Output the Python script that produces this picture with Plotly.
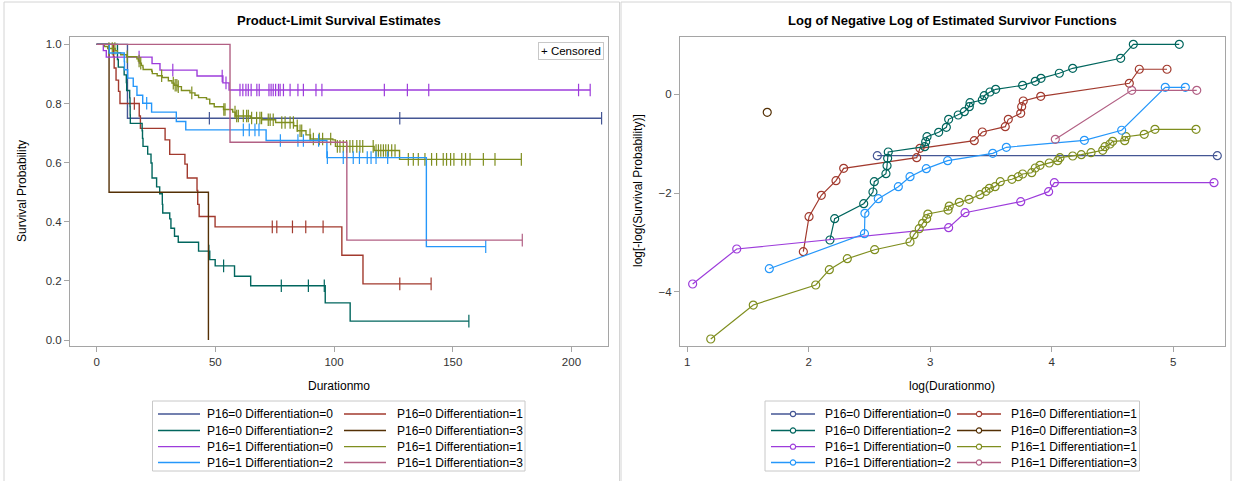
import numpy as np
import plotly.graph_objects as go

# ---------------- data ----------------
group_labels = ["P16=0 Differentiation=0", "P16=0 Differentiation=1",
                "P16=0 Differentiation=2", "P16=0 Differentiation=3",
                "P16=1 Differentiation=0", "P16=1 Differentiation=1",
                "P16=1 Differentiation=2", "P16=1 Differentiation=3"]
colors = ["#445694", "#A23A2E", "#01665E", "#543005",
          "#9D3CDB", "#7F8E1F", "#2597FA", "#B26084"]

# Kaplan-Meier: event times (months), survival after each event, end time, censored times
km_t_00 = [13.0]
km_s_00 = [0.75]
end_00 = 212.7
cen_00 = [47.5, 127.7, 212.7]

km_t_01 = [7.06, 7.40, 8.19, 9.24, 9.85, 17.96, 18.45, 28.85, 30.8, 37.2, 38.2, 42.3, 42.6, 43.2, 49.9, 103.3, 112.2]
km_s_01 = [0.960, 0.920, 0.879, 0.841, 0.800, 0.758, 0.716, 0.677, 0.628, 0.595, 0.548, 0.506, 0.459, 0.418, 0.383, 0.287, 0.190]
end_01 = 140.9
cen_01 = [15.9, 74.0, 75.9, 82.5, 88.1, 95.4, 127.7, 140.9]

km_t_02 = [8.79, 9.14, 11.61, 12.53, 12.67, 13.94, 14.07, 14.14, 14.21, 19.18, 19.34, 19.55, 21.52, 22.92, 23.36,
           25.28, 26.58, 27.69, 27.86, 30.81, 31.31, 32.82, 34.40, 42.95, 47.66, 49.95, 58.1, 64.9, 96.3, 106.8]
km_s_02 = [0.949, 0.923, 0.897, 0.871, 0.844, 0.819, 0.790, 0.761, 0.733, 0.708, 0.682, 0.655, 0.629, 0.599, 0.548,
           0.518, 0.495, 0.459, 0.430, 0.410, 0.378, 0.351, 0.331, 0.301, 0.272, 0.251, 0.216, 0.184, 0.126, 0.064]
end_02 = 156.8
cen_02 = [47.3, 53.5, 77.8, 89.2, 95.9, 156.8]

km_t_03 = [5.25, 47.1]
km_s_03 = [0.5, 0.0]
end_03 = 47.1
cen_03 = []

km_t_10 = [2.84, 4.08, 23.36, 26.7, 42.3, 53.2, 55.8]
km_s_10 = [0.979, 0.957, 0.935, 0.913, 0.893, 0.870, 0.846]
end_10 = 207.9
cen_10 = [17.9, 32.1, 52.9, 54.5, 60.4, 61.6, 62.9, 63.9, 65.1, 67.5, 68.5, 72.6, 73.5, 74.4, 75.4, 76.6,
          77.3, 78.7, 81.5, 84.8, 87.1, 92.4, 94.9, 121.2, 130.9, 139.9, 203.0, 207.9]

km_t_11 = [3.30, 4.68, 7.82, 8.75, 10.14, 12.71, 17.0, 17.57, 18.34, 18.86, 19.5, 19.6, 23.24, 23.47, 25.51,
           27.63, 30.23, 31.75, 32.65, 34.22, 35.73, 39.33, 41.43, 42.95, 46.29, 47.66, 49.55, 53.46, 57.34,
           58.38, 64.85, 69.6, 75.4, 83.0, 84.6, 88.2, 90.1, 99.5, 100.6, 116.9, 127.6]
km_s_11 = [0.993, 0.986, 0.979, 0.972, 0.965, 0.958, 0.951, 0.944, 0.936, 0.929, 0.923, 0.915, 0.909, 0.901,
           0.894, 0.888, 0.877, 0.869, 0.862, 0.857, 0.844, 0.836, 0.828, 0.820, 0.815, 0.799, 0.789, 0.780,
           0.771, 0.758, 0.751, 0.745, 0.736, 0.725, 0.708, 0.694, 0.680, 0.677, 0.655, 0.641, 0.611]
end_11 = 178.9
cen_11 = [5.2, 6.6, 7.7, 12.9, 17.9, 18.6, 27.4, 32.3, 33.1, 33.8, 34.4, 40.1, 53.6, 54.1, 58.3, 59.0, 59.7,
          61.8, 63.2, 63.9, 65.3, 67.4, 68.8, 69.5, 72.3, 73.1, 74.4, 78.0, 79.4, 81.5, 82.9, 84.5, 85.7, 86.4,
          89.9, 91.3, 93.8, 95.2, 98.6, 101.4, 102.5, 103.9, 105.3, 106.7, 107.9, 109.6, 110.9, 112.1, 116.5,
          117.7, 118.7, 119.7, 120.8, 121.8, 122.9, 124.3, 125.7, 131.3, 133.4, 135.5, 138.3, 141.1, 143.2,
          146.0, 147.4, 149.1, 150.5, 153.8, 155.4, 157.3, 162.9, 167.8, 178.9]

km_t_12 = [5.34, 11.65, 11.75, 13.09, 15.44, 17.0, 19.43, 23.17, 33.58, 37.56, 71.4, 97.0, 138.9]
km_s_12 = [0.971, 0.942, 0.914, 0.886, 0.858, 0.828, 0.801, 0.771, 0.739, 0.711, 0.675, 0.617, 0.316]
end_12 = 163.9
cen_12 = [21.1, 61.8, 64.3, 66.7, 68.4, 77.4, 84.8, 87.1, 93.5, 97.2, 103.9, 108.1, 110.7, 114.0, 115.6,
          117.7, 122.6, 163.9]

km_t_13 = [56.2, 105.4]
km_s_13 = [0.669, 0.338]
end_13 = 179.3
cen_13 = [179.3]

# log(-log S) vs log(t)
ll_x_00 = [2.564, 5.362]
ll_y_00 = [-1.244, -1.244]
ll_x_01 = [1.955, 2.002, 2.103, 2.224, 2.287, 2.888, 2.915, 3.362, 3.428, 3.617, 3.642, 3.744, 3.752, 3.765,
           3.909, 4.638, 4.720, 4.948]
ll_y_01 = [-3.189, -2.480, -2.047, -1.750, -1.500, -1.284, -1.095, -0.940, -0.764, -0.656, -0.507, -0.385,
           -0.251, -0.136, -0.041, 0.223, 0.507, 0.507]
ll_x_02 = [2.174, 2.213, 2.452, 2.528, 2.539, 2.635, 2.644, 2.649, 2.654, 2.954, 2.962, 2.973, 3.069, 3.132,
           3.151, 3.230, 3.280, 3.321, 3.327, 3.428, 3.444, 3.491, 3.538, 3.760, 3.864, 3.911, 4.062, 4.172,
           4.567, 4.671, 5.049]
ll_y_02 = [-2.952, -2.520, -2.217, -1.980, -1.771, -1.609, -1.447, -1.297, -1.169, -1.062, -0.960, -0.859,
           -0.770, -0.669, -0.507, -0.419, -0.352, -0.251, -0.170, -0.115, -0.028, 0.047, 0.101, 0.182, 0.263,
           0.324, 0.426, 0.527, 0.729, 1.013, 1.013]
ll_x_03 = [1.658]
ll_y_03 = [-0.365]
ll_x_10 = [1.044, 1.407, 3.151, 3.286, 3.744, 3.974, 4.021, 5.335]
ll_y_10 = [-3.844, -3.135, -2.703, -2.399, -2.176, -1.973, -1.791, -1.791]
ll_x_11 = [1.193, 1.543, 2.057, 2.169, 2.317, 2.542, 2.833, 2.866, 2.909, 2.937, 2.970, 2.980, 3.146, 3.156,
           3.239, 3.319, 3.409, 3.458, 3.486, 3.533, 3.576, 3.672, 3.724, 3.760, 3.835, 3.864, 3.903, 3.979,
           4.049, 4.067, 4.172, 4.243, 4.323, 4.419, 4.438, 4.479, 4.501, 4.600, 4.611, 4.761, 4.849, 5.187]
ll_y_11 = [-4.958, -4.270, -3.864, -3.553, -3.331, -3.149, -2.993, -2.845, -2.723, -2.614, -2.520, -2.426,
           -2.345, -2.264, -2.189, -2.128, -2.034, -1.966, -1.905, -1.872, -1.771, -1.722, -1.669, -1.615,
           -1.589, -1.493, -1.439, -1.392, -1.345, -1.284, -1.250, -1.224, -1.183, -1.135, -1.062, -1.007,
           -0.952, -0.940, -0.859, -0.811, -0.709, -0.709]
ll_x_12 = [1.675, 2.458, 2.462, 2.572, 2.737, 2.833, 2.967, 3.143, 3.514, 3.626, 4.268, 4.575, 4.934, 5.099]
ll_y_12 = [-3.534, -2.825, -2.412, -2.115, -1.872, -1.669, -1.507, -1.345, -1.196, -1.074, -0.932, -0.729,
           0.142, 0.142]
ll_x_13 = [4.029, 4.658, 5.193]
ll_y_13 = [-0.912, 0.081, 0.081]

left_x_ticks = [0, 50, 100, 150, 200]
left_y_ticks = [0.0, 0.2, 0.4, 0.6, 0.8, 1.0]
right_x_ticks = [1, 2, 3, 4, 5]
right_y_ticks = [-4, -2, 0]

km_groups = [(km_t_00, km_s_00, end_00, cen_00), (km_t_01, km_s_01, end_01, cen_01),
             (km_t_02, km_s_02, end_02, cen_02), (km_t_03, km_s_03, end_03, cen_03),
             (km_t_10, km_s_10, end_10, cen_10), (km_t_11, km_s_11, end_11, cen_11),
             (km_t_12, km_s_12, end_12, cen_12), (km_t_13, km_s_13, end_13, cen_13)]
ll_groups = [(ll_x_00, ll_y_00), (ll_x_01, ll_y_01), (ll_x_02, ll_y_02), (ll_x_03, ll_y_03),
             (ll_x_10, ll_y_10), (ll_x_11, ll_y_11), (ll_x_12, ll_y_12), (ll_x_13, ll_y_13)]

# ---------------- figure ----------------
W, H = 1233, 481
FONT = "Liberation Sans, Arial, sans-serif"
fig = go.Figure()


def px(x):
    return x / W


def py(y):
    return 1 - y / H


for i, (t, s, end, cen) in enumerate(km_groups):
    xs = [0.0] + list(t) + [end]
    ys = [1.0] + list(s) + [s[-1]]
    fig.add_trace(go.Scatter(x=xs, y=ys, mode="lines", line=dict(color=colors[i], width=1.4, shape="hv"),
                             name=group_labels[i], showlegend=False, xaxis="x", yaxis="y",
                             hoverinfo="skip"))
    if cen:
        idx = np.searchsorted(np.array(t), np.array(cen), side="right")
        cy = [1.0 if k == 0 else s[k - 1] for k in idx]
        fig.add_trace(go.Scatter(x=cen, y=cy, mode="markers", showlegend=False,
                                 marker=dict(symbol="line-ns", size=9,
                                             line=dict(color=colors[i], width=1.2)),
                                 xaxis="x", yaxis="y", hoverinfo="skip"))

for i, (lx, ly) in enumerate(ll_groups):
    fig.add_trace(go.Scatter(x=lx, y=ly, mode="lines+markers", name=group_labels[i], showlegend=False,
                             line=dict(color=colors[i], width=1.2),
                             marker=dict(symbol="circle-open", size=8, color=colors[i],
                                         line=dict(width=1.2, color=colors[i])),
                             xaxis="x2", yaxis="y2", hoverinfo="skip"))

axis_common = dict(showline=True, mirror=True, linecolor="#A5A5A5", linewidth=1, ticks="outside",
                   ticklen=5, tickcolor="#A5A5A5", showgrid=False, zeroline=False,
                   tickfont=dict(family=FONT, size=11.5, color="#333333"))

fig.update_layout(
    width=W, height=H, margin=dict(l=0, r=0, t=0, b=0, autoexpand=False),
    paper_bgcolor="white", plot_bgcolor="white", showlegend=False,
    font=dict(family=FONT, size=11, color="#000000"),
    xaxis=dict(domain=[px(70), px(608)], range=[-11.2, 215.4], tickvals=left_x_ticks, anchor="y", **axis_common),
    yaxis=dict(domain=[py(346), py(36.7)], range=[-0.02, 1.026], tickvals=left_y_ticks, tickformat=".1f",
               anchor="x", **axis_common),
    xaxis2=dict(domain=[px(680), px(1224.7)], range=[0.94, 5.423], tickvals=right_x_ticks, anchor="y2",
                **axis_common),
    yaxis2=dict(domain=[py(346), py(36.7)], range=[-5.10, 1.167], tickvals=right_y_ticks, anchor="x2",
                **axis_common),
)

annotations = [
    dict(text="<b>Product-Limit Survival Estimates</b>", x=px(339), y=py(21), font=dict(size=13)),
    dict(text="<b>Log of Negative Log of Estimated Survivor Functions</b>", x=px(952), y=py(21),
         font=dict(size=13)),
    dict(text="Durationmo", x=px(339), y=py(386), font=dict(size=12)),
    dict(text="log(Durationmo)", x=px(952), y=py(386), font=dict(size=12)),
    dict(text="Survival Probability", x=px(22), y=py(191), textangle=-90, font=dict(size=12)),
    dict(text="log[-log(Survival Probability)]", x=px(638), y=py(191), textangle=-90, font=dict(size=12)),
]
for a in annotations:
    a.update(xref="paper", yref="paper", showarrow=False, xanchor="center", yanchor="middle")
    a["font"]["family"] = FONT
    fig.add_annotation(**a)

fig.add_annotation(text="+ Censored", xref="paper", yref="paper", x=px(604), y=py(42), xanchor="right",
                   yanchor="top", showarrow=False, bordercolor="#C8C8C8", borderwidth=1, borderpad=2,
                   bgcolor="white", font=dict(family=FONT, size=11.5))

# ---------------- legends (drawn below each panel) ----------------
row_y = [414, 430.5, 446.7, 462.5]


def draw_legend(box_x0, box_x1, col_line, col_text, with_marker):
    fig.add_shape(type="rect", xref="paper", yref="paper", x0=px(box_x0), x1=px(box_x1),
                  y0=py(471), y1=py(401), line=dict(color="#C8C8C8", width=1), fillcolor="white")
    for i, lab in enumerate(group_labels):
        r, c = divmod(i, 2)
        yy = py(row_y[r])
        lx0, lx1 = col_line[c]
        fig.add_shape(type="line", xref="paper", yref="paper", x0=px(lx0), x1=px(lx1), y0=yy, y1=yy,
                      line=dict(color=colors[i], width=1.3))
        if with_marker:
            xm = px((lx0 + lx1) / 2)
            fig.add_shape(type="circle", xref="paper", yref="paper", xsizemode="pixel", ysizemode="pixel",
                          xanchor=xm, yanchor=yy, x0=-2.6, x1=2.6, y0=-2.6, y1=2.6,
                          line=dict(color=colors[i], width=1.1), fillcolor="white")
        fig.add_annotation(text=lab, xref="paper", yref="paper", x=px(col_text[c]), y=yy, xanchor="left",
                           yanchor="middle", showarrow=False, font=dict(family=FONT, size=12, color="#000000"))


draw_legend(152.5, 525, [(158, 200), (344, 386)], [205, 394.5], False)
draw_legend(765, 1139.5, [(771, 815), (957, 1001)], [822.5, 1008.5], True)

# panel borders
fig.add_shape(type="rect", xref="paper", yref="paper", x0=px(4), x1=px(619.5), y0=-0.02, y1=py(2),
              line=dict(color="#D4D4D4", width=1))
fig.add_shape(type="rect", xref="paper", yref="paper", x0=px(621), x1=px(1231), y0=-0.02, y1=py(2),
              line=dict(color="#D4D4D4", width=1))

fig.write_html("out.html", config={"displayModeBar": False, "staticPlot": True},
               post_script="document.body.style.margin='0px';document.body.style.overflow='hidden';")
